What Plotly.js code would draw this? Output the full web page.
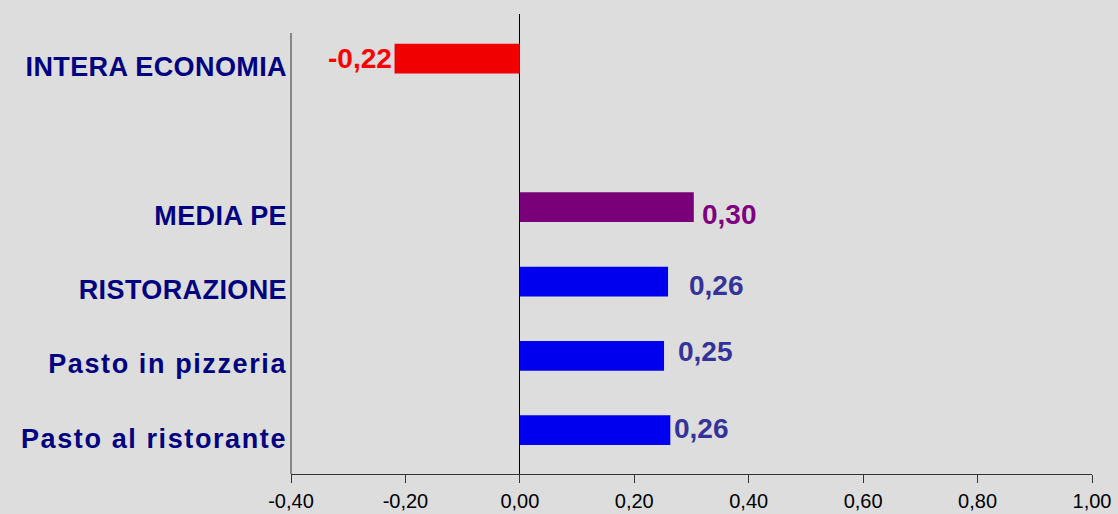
<!DOCTYPE html>
<html>
<head>
<meta charset="utf-8">
<script src="https://cdn.plot.ly/plotly-3.0.1.min.js"></script>
<style>
  html, body { margin: 0; padding: 0; background: #dddddd; }
  #chart { width: 1118px; height: 514px; }
</style>
</head>
<body>
<div id="chart"></div>
<script>
// Categories listed bottom to top; the non-breaking space marks the empty gap row
const categories = ['Pasto al ristorante', 'Pasto in pizzeria', 'RISTORAZIONE', 'MEDIA PE', '\u00a0', 'INTERA ECONOMIA'];
const values = [0.263, 0.252, 0.259, 0.304, null, -0.219];
const barColors = ['#0000EE', '#0000EE', '#0000EE', '#7A007A', '#0000EE', '#F00000'];
const labelColors = ['#333399', '#333399', '#333399', '#800080', '#333399', '#FF0000'];
const xTicks = [-0.4, -0.2, 0, 0.2, 0.4, 0.6, 0.8, 1.0];
const xTickLabels = ['-0,40', '-0,20', '0,00', '0,20', '0,40', '0,60', '0,80', '1,00'];

// pixel nudges for the value labels (style only)
const labelXShift = [2, 12, 19, 6, 0, -1];
const labelYShift = [2, 4, -4, -7, 0, 0];

const fmt = v => v.toFixed(2).replace('.', ',');

const trace = {
  type: 'bar',
  orientation: 'h',
  x: values,
  y: categories,
  width: 0.4,
  marker: { color: barColors, line: { width: 0 } },
  hoverinfo: 'skip'
};

const annotations = [];
values.forEach((v, i) => {
  if (v === null) return;
  annotations.push({
    x: v, y: categories[i], xref: 'x', yref: 'y',
    text: fmt(v),
    showarrow: false,
    xanchor: v < 0 ? 'right' : 'left',
    yanchor: 'middle',
    xshift: labelXShift[i],
    yshift: labelYShift[i],
    font: { family: 'Liberation Sans, Arial, sans-serif', size: 28, color: labelColors[i], weight: 'bold' }
  });
});

const layout = {
  width: 1118,
  height: 514,
  margin: { l: 291, r: 26, t: 14, b: 40, pad: 0 },
  paper_bgcolor: '#dddddd',
  plot_bgcolor: '#dddddd',
  showlegend: false,
  xaxis: {
    range: [-0.4, 1.0],
    tickvals: xTicks,
    ticktext: xTickLabels,
    showgrid: false,
    zeroline: true,
    zerolinecolor: '#000000',
    zerolinewidth: 1,
    showline: true,
    linecolor: '#333333',
    linewidth: 1,
    ticks: 'outside',
    ticklen: 8,
    tickcolor: '#333333',
    tickwidth: 1,
    ticklabelstandoff: 1,
    tickfont: { family: 'Liberation Sans, Arial, sans-serif', size: 20, color: '#000000' },
    fixedrange: true
  },
  yaxis: {
    type: 'category',
    categoryorder: 'array',
    categoryarray: categories,
    range: [-0.59, 5.6],
    showgrid: false,
    zeroline: false,
    showline: false,
    ticks: '',
    ticklabelshift: 8,
    ticklabelstandoff: 3,
    tickfont: { family: 'Liberation Sans, Arial, sans-serif', size: 27, color: '#000080', weight: 'bold' },
    fixedrange: true
  },
  shapes: [
    { type: 'line', xref: 'paper', yref: 'paper', x0: 0, x1: 0, y0: 0, y1: 0.9587,
      line: { color: '#333333', width: 1 } }
  ],
  annotations: annotations
};

Plotly.newPlot('chart', [trace], layout, { displayModeBar: false, staticPlot: true }).then(() => {
  document.querySelectorAll('#chart .ytick text').forEach(t => {
    const s = t.textContent;
    t.style.letterSpacing = /[a-z]/.test(s) ? '1.6px' : '0.4px';
  });
});
</script>
</body>
</html>
